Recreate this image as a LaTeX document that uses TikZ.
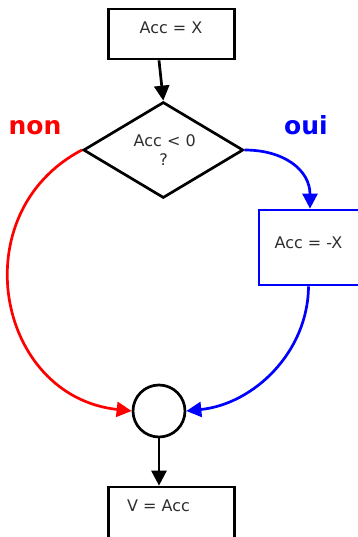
\documentclass[tikz,border=0pt]{standalone}
\usepackage{fontspec}
\setmainfont{DejaVu Sans}
\usetikzlibrary{arrows.meta,shapes.geometric}
\definecolor{txt}{gray}{0.18}
\begin{document}
\begin{tikzpicture}[x=1pt,y=1pt,
  every node/.style={font=\fontsize{16}{19}\selectfont, text=txt},
  stepbox/.style={draw=black, line width=2.7pt, minimum width=126pt, minimum height=50pt, inner sep=0pt},
  lbl/.style={anchor=base, inner sep=0pt},
  flow/.style={line width=2.7pt, -{Triangle[length=15pt,width=15pt]}},
  tag/.style={anchor=base, inner sep=0pt, font=\fontsize{25}{28}\selectfont\bfseries}]
\useasboundingbox (0,0) rectangle (358,-537);
\clip (0,0) rectangle (358,-537);

% boxes, test and junction
\node[stepbox] (init) at (171.5,-34) {};
\node[draw=black, line width=2.7pt, diamond, inner sep=0pt, shape aspect=1.67,
      minimum width=160pt, minimum height=96pt] (test) at (163.3,-150) {};
\node[stepbox, draw=blue, minimum height=75pt] (neg) at (322,-247.5) {};
\node[draw=black, line width=2.7pt, circle, minimum size=52pt, inner sep=0pt] (join) at (159,-411) {};
\node[stepbox, minimum height=60pt] (out) at (171.5,-517) {};

% texts
\node[lbl] (initlbl) at (171,-34) {Acc = X};
\node[lbl] (testlbl) at (164.7,-146.7) {Acc < 0};
\node[lbl] (testq) at (163.5,-166) {?};
\node[lbl] (neglbl) at (308.5,-248.3) {Acc = -X};
\node[lbl] (outlbl) at (158.5,-511.7) {V = Acc};

% branch labels
\node[tag, text=red] (non) at (35,-134.7) {non};
\node[tag, text=blue] (oui) at (306,-134.7) {oui};

% connectors
\draw[flow] ([xshift=-12.5pt]init.south) -- (test.north);
\draw[flow, red] (test.west) .. controls (-38.3,-213.1) and (-3.8,-396.4) .. (join.west);
\draw[flow, blue] (test.east) .. controls (284,-150) and (310,-170) .. ([xshift=-12pt]neg.north);
\draw[flow, blue] ([xshift=-13.5pt]neg.south) .. controls (308,-352) and (254,-404) .. (join.east);
\draw[flow] (join.south) -- (join.south |- out.north);
\end{tikzpicture}
\end{document}
